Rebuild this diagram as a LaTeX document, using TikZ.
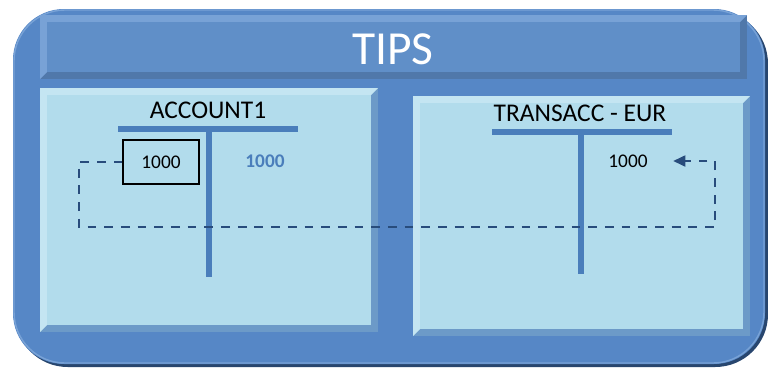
\documentclass[tikz,border=0pt]{standalone}
\usepackage{fontspec}
\setmainfont{Carlito}
\usetikzlibrary{arrows.meta,positioning}
\definecolor{frameblue}{RGB}{86,135,198}
\definecolor{frameshadow}{RGB}{40,70,110}
\definecolor{bandblue}{RGB}{96,143,200}
\definecolor{bandlight}{RGB}{120,162,214}
\definecolor{banddark}{RGB}{80,120,170}
\definecolor{panelface}{RGB}{178,220,236}
\definecolor{panellight}{RGB}{196,229,242}
\definecolor{paneldark}{RGB}{108,154,200}
\definecolor{tbar}{RGB}{74,126,187}
\definecolor{flowline}{RGB}{40,76,124}
\newcommand{\bevelbox}[8]{%
  \fill[#8] (#1,#2) rectangle (#3,#4);
  \fill[#7] (#1,#2) -- (#3,#2) -- (#3-#5,#2+#5) -- (#1+#5,#4-#5) -- (#1,#4) -- cycle;
  \fill[#6] (#1+#5,#2+#5) rectangle (#3-#5,#4-#5);
}
\tikzset{
    tline/.style={line width=3.2pt, tbar},
    flow/.style={line width=1.7pt, flowline, dash pattern=on 5pt off 4.5pt},
    amount/.style={font=\fontsize{11}{12}\selectfont, inner sep=2pt}
}
\begin{document}
\begin{tikzpicture}[x=0.02cm, y=-0.02cm]
	\useasboundingbox (0,0) rectangle (768,369);
	% outer frame
	\fill[frameshadow, rounded corners=30pt] (15,11) rectangle (768,367);
	\fill[frameblue, rounded corners=29pt] (13,9) rectangle (765,364);
	\draw[bandlight, line width=0.8pt, rounded corners=29pt] (14,10) rectangle (764,363);
	% title band
	\bevelbox{40}{15}{747}{79}{7}{bandblue}{bandlight}{banddark}
	\node[white, font=\fontsize{27}{30}\selectfont] (tips) at (393,49) {TIPS};
	% panels
	\bevelbox{40}{88}{378}{332}{7}{panelface}{panellight}{paneldark}
	\bevelbox{413}{96}{750}{336}{7}{panelface}{panellight}{paneldark}

	% left account
	\node[font=\fontsize{14.5}{16}\selectfont] (acc) at (208,110) {ACCOUNT1};
	\draw[tline] (118,129) -- (298,129);
	\draw[tline] (209,129) -- (209,277);
	\node[draw, thick, minimum width=76*0.02cm, minimum height=44*0.02cm, amount] (debit) at (161,162) {1000};
	\node[amount, tbar, font=\fontsize{11}{12}\selectfont\bfseries] (credit) at (265,161) {1000};

	% right account
	\node[font=\fontsize{14.5}{16}\selectfont] (trans) at (580,113) {TRANSACC - EUR};
	\draw[tline] (492,132) -- (672,132);
	\draw[tline] (581,132) -- (581,274);
	\node[amount] (transcred) at (628,161) {1000};
	\coordinate (tip) at (673,161);

	% transfer
	\draw[flow, -{Triangle[length=7pt, width=6pt]}] (debit.west) -- (79,162) -- (79,227) -- (715,227) -- (715,161) -- (tip);
\end{tikzpicture}
\end{document}
